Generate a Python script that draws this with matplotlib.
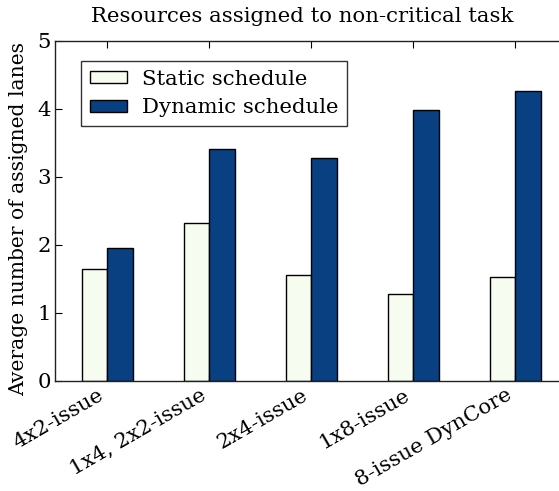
import numpy as np
import matplotlib
matplotlib.use("Agg")
import matplotlib.pyplot as plt

configs = ["4x2-issue", "1x4, 2x2-issue", "2x4-issue", "1x8-issue", "8-issue DynCore"]
static_lanes = [1.65, 2.33, 1.56, 1.28, 1.53]
dynamic_lanes = [1.95, 3.41, 3.28, 3.99, 4.27]
series_names = ["Static schedule", "Dynamic schedule"]
y_ticks = [0, 1, 2, 3, 4, 5]

plt.rcParams["font.family"] = ["DejaVu Serif"]
fs = 15.3

fig = plt.figure(figsize=(5.59, 4.91), dpi=100)
# the axes run past the right edge of the figure, so the right spine is cut off
ax = fig.add_axes([55 / 559, 110 / 491, 545 / 559, 340 / 491])

x = np.arange(len(configs))
w = 0.25
ax.bar(x - w / 2, static_lanes, w, color="#f7fcf0", edgecolor="black",
       linewidth=1.0, label=series_names[0])
ax.bar(x + w / 2, dynamic_lanes, w, color="#084081", edgecolor="black",
       linewidth=1.0, label=series_names[1])

ax.set_xlim(-0.51, 4.833)
ax.set_ylim(0, 5)
ax.set_yticks(y_ticks)
ax.set_xticks(x)
ax.set_xticklabels(configs, rotation=30, ha="right")
ax.tick_params(direction="in", top=True, right=False, length=5, width=0.8,
               labelsize=fs, pad=3)
ax.set_ylabel("Average number of assigned lanes", fontsize=14.6, labelpad=1)
ax.yaxis.set_label_coords(-0.05, 0.475)
ax.set_title("Resources assigned to non-critical task", fontsize=fs,
             x=0.453, pad=14)
for s in ax.spines.values():
    s.set_linewidth(1.0)
    s.set_color("#222222")
ax.spines["right"].set_visible(False)

leg = ax.legend(loc="upper left", bbox_to_anchor=(26 / 545, 0.94), fontsize=fs,
                fancybox=False, frameon=True, borderpad=0.4,
                handlelength=1.75, handleheight=0.5, labelspacing=0.45,
                handletextpad=0.7, borderaxespad=0.0)
leg.get_frame().set_edgecolor("black")
leg.get_frame().set_linewidth(1.0)

fig.savefig("out.png", dpi=100)
